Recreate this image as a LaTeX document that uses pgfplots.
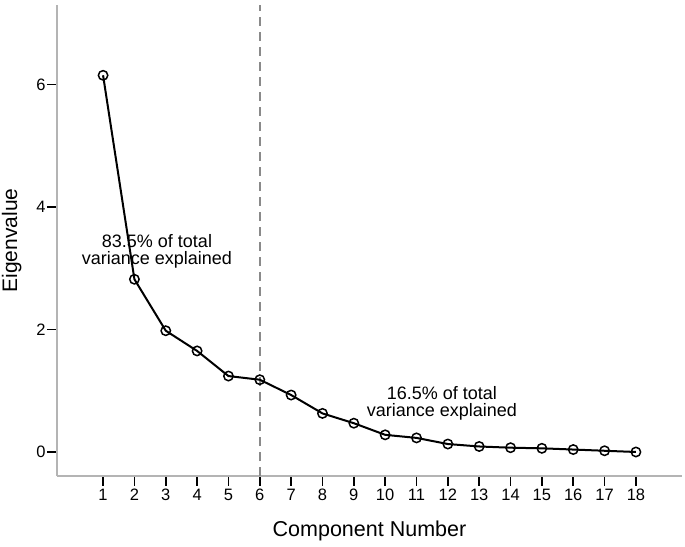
\documentclass[border=0pt]{standalone}
\usepackage{fontspec}
\setmainfont{Liberation Sans}
\usepackage{pgfplots}
\pgfplotsset{compat=1.18}
\definecolor{axisgray}{HTML}{B4B4B4}
\definecolor{dashgray}{HTML}{8A8A8A}
\begin{document}
\begin{tikzpicture}[x=1pt,y=1pt]
\path[use as bounding box] (0,0) rectangle (685,546);
\begin{axis}[
  at={(57pt,70pt)}, anchor=south west,
  width=625pt, height=471pt, scale only axis,
  xmin=-0.47, xmax=19.47, ymin=-0.392, ymax=7.298,
  axis x line=bottom, axis y line=left,
  axis line style={draw=axisgray, line width=2.5pt, -},
  xtick={1,...,18}, ytick={0,2,4,6},
  minor tick num=0,
  tick align=outside,
  major tick length=9.5pt,
  tick style={black, line width=1.5pt},
  ticklabel style={font=\fontsize{16.5}{16.5}\selectfont},
  yticklabel style={xshift=1.5pt},
  /pgf/number format/assume math mode=true,
  xlabel={Component Number}, ylabel={Eigenvalue},
  xlabel style={font=\fontsize{21.5}{21.5}\selectfont, at={(axis description cs:0.5,-0.1295)}, anchor=base},
  ylabel style={font=\fontsize{21}{21}\selectfont, at={(axis description cs:-0.064,0.5)}, anchor=base},
  clip=false,
]
\addplot[dashgray, line width=2.5pt, dash pattern=on 9pt off 6pt] coordinates {(6,-0.392) (6,7.298)};
\addplot[black, line width=2pt, mark=o, mark size=4.7pt, mark options={line width=1.5pt, solid}] coordinates {
(1,6.15) (2,2.82) (3,1.98) (4,1.65) (5,1.24) (6,1.18) (7,0.93) (8,0.63) (9,0.47)
(10,0.28) (11,0.23) (12,0.13) (13,0.09) (14,0.07) (15,0.06) (16,0.04) (17,0.02) (18,0.00)};
\node[align=center, font=\fontsize{18}{16.8}\selectfont] at (axis cs:2.72,3.27) {83.5\% of total\\variance explained};
\node[align=center, font=\fontsize{18}{16.8}\selectfont] at (axis cs:11.81,0.80) {16.5\% of total\\variance explained};
\end{axis}
\end{tikzpicture}
\end{document}
